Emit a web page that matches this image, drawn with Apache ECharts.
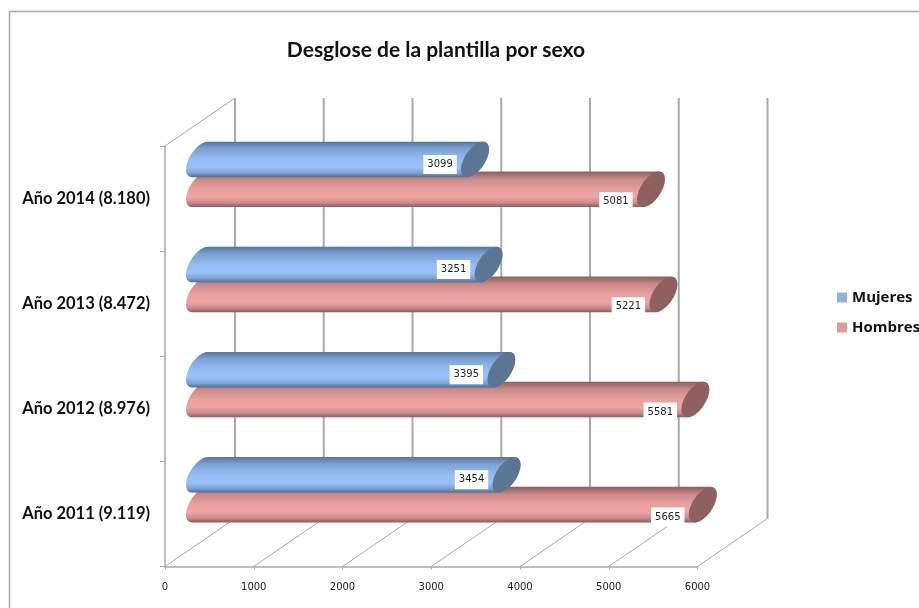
<!DOCTYPE html>
<html lang="es">
<head>
<meta charset="utf-8">
<title>Desglose de la plantilla por sexo</title>
<style>html,body{margin:0;padding:0;background:#fff}#chart{width:919px;height:608px}</style>
<script src="https://cdn.jsdelivr.net/npm/echarts@6/dist/echarts.min.js"></script>
</head>
<body>
<div id="chart"></div>
<script>
// Staff breakdown by sex, per year (bottom to top on the category axis)
const years = ['Año 2011 (9.119)', 'Año 2012 (8.976)', 'Año 2013 (8.472)', 'Año 2014 (8.180)'];
const mujeres = [3454, 3395, 3251, 3099];
const hombres = [5665, 5581, 5221, 5081];
const ticks = [0, 1000, 2000, 3000, 4000, 5000, 6000];

const chart = echarts.init(document.getElementById('chart'));

// Oblique projection: the back wall is displaced from the front plane by this much
const DEPTH_X = 70, DEPTH_Y = -48;

// Silhouette and end cap of a horizontal cylinder between x0 and x1, centred on y
function cylinderShapes(x0, x1, y, r, ex, ey) {
  const ring = (cx, from, to) => {
    const pts = [];
    for (let i = 0; i <= 24; i++) {
      const t = from + (to - from) * i / 24;
      pts.push([cx + ex * Math.sin(t), y + r * Math.cos(t) + ey * Math.sin(t)]);
    }
    return pts;
  };
  const tBot = Math.atan2(ey, r);      // lowest point of the end ellipse
  const tTop = Math.PI + tBot;         // highest point of the end ellipse
  const body = ring(x0, tTop, tBot + Math.PI * 2)  // left side, top to bottom
    .concat(ring(x1, tBot, tTop));                 // right side, bottom to top
  const cap = ring(x1, 0, Math.PI * 2);
  return { body, cap };
}

function cylinderRenderer(style, labelDy, centreDy) {
  return function (params, api) {
    const cat = api.value(0), val = api.value(1);
    const end = api.coord([val, cat]);
    const start = api.coord([0, cat]);
    const band = api.size([0, 1])[1];
    const cy = end[1] + DEPTH_Y / 2 + band * centreDy;
    const r = band * 0.14, ex = 14, ey = -10;
    const s = cylinderShapes(start[0] + DEPTH_X / 2, end[0] + DEPTH_X / 2, cy, r, ex, ey);
    return {
      type: 'group',
      children: [
        { type: 'polygon', shape: { points: s.body }, style: { fill: {
            type: 'linear', x: 0, y: 0, x2: 0, y2: 1, colorStops: style.stops } } },
        { type: 'polygon', shape: { points: s.cap }, style: { fill: style.cap } },
        { type: 'text', x: end[0], y: end[1] + band * labelDy, style: {
            text: String(val), fill: '#1f1f1f', font: '10px "DejaVu Sans"',
            align: 'center', verticalAlign: 'middle',
            backgroundColor: '#fff', padding: [5, 4, 4, 4] } }
      ]
    };
  };
}

const blueStyle = { cap: '#5b7595', stops: [
  { offset: 0, color: '#56749c' }, { offset: 0.2, color: '#7da2d2' }, { offset: 0.5, color: '#94bdf4' },
  { offset: 0.72, color: '#98c2fa' }, { offset: 0.88, color: '#7ea3d4' }, { offset: 1, color: '#506c92' }] };
const redStyle = { cap: '#8e6160', stops: [
  { offset: 0, color: '#8c5f5f' }, { offset: 0.22, color: '#c98b8a' }, { offset: 0.5, color: '#eaa09f' },
  { offset: 0.72, color: '#eea4a3' }, { offset: 0.88, color: '#c98b8a' }, { offset: 1, color: '#875c5b' }] };

const wallLine = { stroke: '#a9a9a9', lineWidth: 2 };
const floorLine = { stroke: '#a9a9a9', lineWidth: 1 };

const option = {
  animation: false,
  backgroundColor: '#fff',
  title: {
    text: 'Desglose de la plantilla por sexo',
    left: 431, top: 35, textAlign: 'center',
    textStyle: { fontFamily: 'Lato', fontWeight: 700, fontSize: 21, color: '#111' }
  },
  legend: {
    orient: 'vertical', left: 832, top: 285, itemWidth: 10, itemHeight: 10, itemGap: 15,
    icon: 'rect', selectedMode: false,
    textStyle: { fontFamily: 'Open Sans', fontWeight: 700, fontSize: 15, color: '#111' },
    data: [
      { name: 'Mujeres', itemStyle: { color: '#95b3e0' } },
      { name: 'Hombres', itemStyle: { color: '#df9a9c' } }
    ]
  },
  grid: { left: 165, top: 146, width: 532.5, height: 420.5 },
  xAxis: {
    type: 'value', min: 0, max: 6000, interval: 1000,
    axisLine: { show: true, lineStyle: { color: '#a9a9a9', width: 1.5 } },
    axisTick: { show: true, length: 3, lineStyle: { color: '#a9a9a9' } },
    splitLine: { show: false },
    axisLabel: { margin: 16, fontFamily: 'DejaVu Sans', fontSize: 10, color: '#222', formatter: v => String(v) }
  },
  yAxis: {
    type: 'category', data: years,
    axisLine: { show: true, lineStyle: { color: '#a9a9a9', width: 1.5 } },
    axisTick: { show: true, length: 5, alignWithLabel: false, lineStyle: { color: '#a9a9a9' } },
    axisLabel: { margin: 15, fontFamily: 'Lato', fontWeight: 700, fontSize: 16.5, color: '#111' }
  },
  graphic: [
    { type: 'polyline', silent: true, z: 0,
      shape: { points: [[9.5, 608], [9.5, 11.5], [919, 11.5]] },
      style: { stroke: '#a9a9a9', lineWidth: 1.5, fill: null } }
  ],
  series: [
    {
      // Back wall verticals, floor diagonals and the side-wall edge, one per tick
      type: 'custom', name: 'paredes', coordinateSystem: 'cartesian2d', z: 1,
      silent: true, encode: { x: 0 },
      data: ticks.map(t => [t]),
      renderItem(params, api) {
        const t = api.value(0);
        const x = api.coord([t, 0])[0];
        const g = params.coordSys;
        const bottom = g.y + g.height, top = g.y;
        const children = [
          { type: 'line', shape: { x1: x + DEPTH_X, y1: bottom + DEPTH_Y, x2: x + DEPTH_X, y2: top + DEPTH_Y }, style: wallLine },
          { type: 'line', shape: { x1: x, y1: bottom, x2: x + DEPTH_X, y2: bottom + DEPTH_Y }, style: floorLine }
        ];
        if (t === ticks[0]) {
          children.push({ type: 'line', shape: { x1: x, y1: top, x2: x + DEPTH_X, y2: top + DEPTH_Y }, style: floorLine });
        }
        return { type: 'group', children };
      }
    },
    {
      type: 'custom', name: 'Hombres', coordinateSystem: 'cartesian2d', z: 2,
      itemStyle: { color: '#df9a9c' }, encode: { x: 1, y: 0 },
      data: hombres.map((v, i) => [i, v]),
      renderItem: cylinderRenderer(redStyle, 0.03, 0.14)
    },
    {
      type: 'custom', name: 'Mujeres', coordinateSystem: 'cartesian2d', z: 3,
      itemStyle: { color: '#95b3e0' }, encode: { x: 1, y: 0 },
      data: mujeres.map((v, i) => [i, v]),
      renderItem: cylinderRenderer(blueStyle, -0.325, -0.144)
    }
  ]
};
chart.setOption(option);
</script>
</body>
</html>
